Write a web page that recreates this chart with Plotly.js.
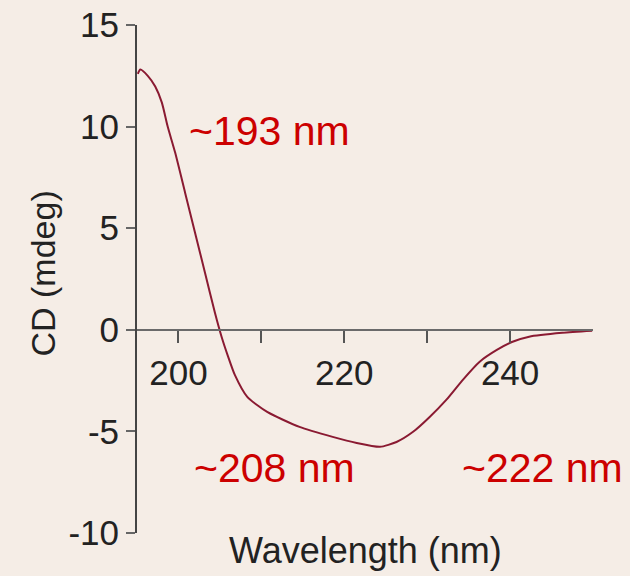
<!DOCTYPE html>
<html>
<head>
<meta charset="utf-8">
<script src="https://cdn.plot.ly/plotly-3.0.1.min.js"></script>
<style>html,body{margin:0;padding:0;background:#f5ede6;}#chart{width:630px;height:576px;}</style>
</head>
<body>
<div id="chart"></div>
<script>
const wavelength = [195.1,195.4,196.3,197.2,198.0,198.7,199.6,200.8,202.0,203.2,204.4,205.2,206.0,206.8,208.3,210.7,214.6,218.6,221.5,224.3,226.3,228.3,230.3,232.3,234.3,236.3,238.4,240.3,242.3,246.3,249.9];
const cd = [12.6,12.81,12.5,11.97,11.18,10.0,8.72,6.75,4.78,2.81,0.84,-0.34,-1.33,-2.22,-3.30,-4.04,-4.78,-5.27,-5.57,-5.76,-5.52,-5.02,-4.29,-3.45,-2.46,-1.58,-0.99,-0.59,-0.34,-0.15,-0.05];
const xTickVals = [200,210,220,230,240];
const xTickText = ['200','','220','','240'];
const yTickVals = [-10,-5,0,5,10,15];
const yTickText = ['-10','-5','0','5','10','15'];
const peakLabels = ['~193 nm','~208 nm','~222 nm'];

const font = 'Liberation Sans, Arial, Helvetica, sans-serif';
const trace = {
  x: wavelength, y: cd, type: 'scatter', mode: 'lines',
  line: {color: '#8a1a32', width: 2, shape: 'spline', smoothing: 0.6},
  hoverinfo: 'none'
};
const layout = {
  width: 630, height: 576,
  paper_bgcolor: '#f5ede6', plot_bgcolor: '#f5ede6',
  margin: {l: 137, r: 37, t: 25, b: 43},
  showlegend: false,
  xaxis: {
    range: [195, 250], showgrid: false, zeroline: false,
    anchor: 'free', position: 0.4,
    showline: true, linecolor: '#6a6a6a', linewidth: 2,
    ticks: 'outside', ticklen: 12, tickwidth: 2, tickcolor: '#555',
    tickvals: xTickVals, ticktext: xTickText,
    tickfont: {family: font, size: 35, color: '#222'}
  },
  yaxis: {
    range: [-10, 15], showgrid: false, zeroline: false,
    showline: true, linecolor: '#444', linewidth: 2,
    ticks: 'outside', ticklen: 9, tickwidth: 2, tickcolor: '#666',
    tickvals: yTickVals, ticktext: yTickText,
    tickfont: {family: font, size: 35, color: '#222'}
  },
  annotations: [
    {text: 'Wavelength (nm)', xref: 'paper', yref: 'paper', x: 0.5, y: -0.035, xanchor: 'center', yanchor: 'middle', showarrow: false, font: {family: font, size: 36, color: '#222'}},
    {text: 'CD (mdeg)', xref: 'paper', yref: 'paper', x: -0.207, y: 0.51, xanchor: 'center', yanchor: 'middle', textangle: -90, showarrow: false, font: {family: font, size: 34, color: '#222'}},
    {text: peakLabels[0], xref: 'paper', yref: 'y', x: 0.109, y: 9.8, xanchor: 'left', yanchor: 'middle', showarrow: false, font: {family: font, size: 41, color: '#cc0000'}},
    {text: peakLabels[1], xref: 'paper', yref: 'y', x: 0.12, y: -6.8, xanchor: 'left', yanchor: 'middle', showarrow: false, font: {family: font, size: 41, color: '#cc0000'}},
    {text: peakLabels[2], xref: 'paper', yref: 'y', x: 0.708, y: -6.8, xanchor: 'left', yanchor: 'middle', showarrow: false, font: {family: font, size: 41, color: '#cc0000'}}
  ]
};
Plotly.newPlot('chart', [trace], layout, {displayModeBar: false, staticPlot: true});
</script>
</body>
</html>
